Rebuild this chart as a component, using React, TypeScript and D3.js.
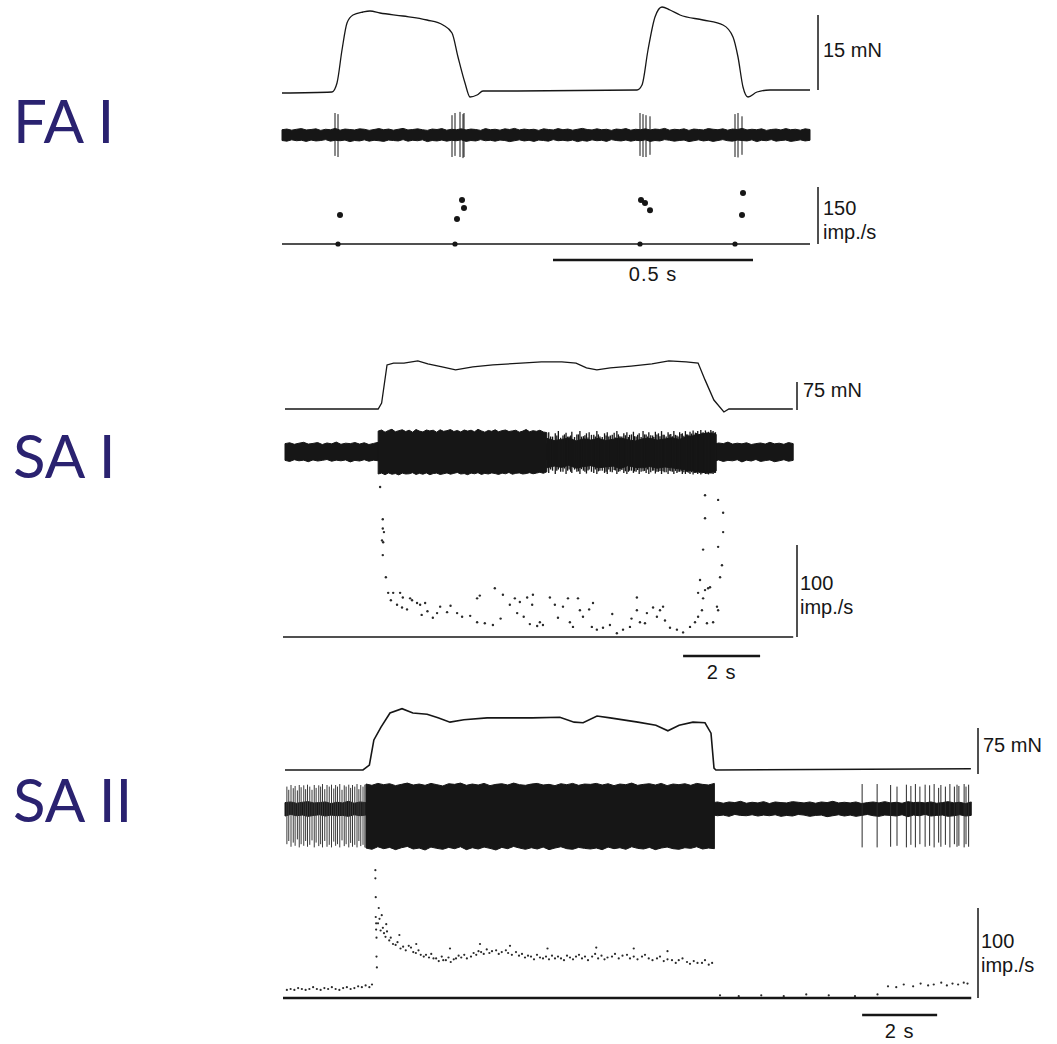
import React from 'react';
import * as d3 from 'd3';

type P = [number, number];
type S = [number, number, number];

// ---------- FA I : time (s), force (mN), rate (imp./s)
const faForce: P[] = [
  [0, 0], [0.125, 0.2], [0.1375, 2], [0.15, 8.6], [0.1625, 14], [0.1775, 15.6], [0.2025, 16.2], [0.22, 16.4],
  [0.245, 16], [0.3025, 15.4], [0.3625, 14.6], [0.4025, 13.6], [0.425, 12], [0.44, 7.2], [0.4575, 2], [0.47, -0.8],
  [0.4875, -0.4], [0.5025, 0.4], [0.5375, 0.4], [0.8875, 0.6], [0.9, 1.6], [0.915, 8.6], [0.9325, 15.2], [0.95, 17.2],
  [0.97, 16.6], [0.995, 15.6], [1.0525, 14.6], [1.1025, 13.6], [1.1275, 11.2], [1.14, 7.2], [1.1525, 1.2], [1.165, -0.8],
  [1.1875, 0.2], [1.22, 0.6], [1.32, 0.6],
];
const faSpikes: S[] = [
  [0.1325, 1, 0.95], [0.14, 0.95, 1], [0.425, 0.9, 1], [0.4325, 1, 0.95], [0.445, 1.05, 1], [0.4525, 0.95, 1.05],
  [0.455, 1, 1], [0.895, 1, 0.95], [0.9025, 0.95, 1], [0.91, 0.9, 1], [0.92, 0.85, 0.9], [1.1325, 0.95, 1],
  [1.14, 1, 1.02], [1.15, 0.85, 0.9],
];
const faNoise = [
  0.24, 0.27, 0.22, 0.26, 0.29, 0.23, 0.25, 0.28, 0.21, 0.26, 0.24, 0.3, 0.22, 0.27, 0.25, 0.23, 0.28, 0.26, 0.21, 0.25,
  0.29, 0.24, 0.27, 0.22, 0.26, 0.3, 0.23, 0.25, 0.28, 0.24, 0.21, 0.27, 0.25, 0.29, 0.22, 0.26, 0.24, 0.28, 0.23, 0.27,
  0.25, 0.21, 0.29, 0.24, 0.26, 0.22, 0.28, 0.25, 0.3, 0.23, 0.27, 0.24, 0.26, 0.21, 0.28, 0.25, 0.23, 0.29, 0.24, 0.27,
  0.22, 0.26, 0.3, 0.25, 0.23, 0.28, 0.24, 0.26, 0.21, 0.27, 0.25, 0.29, 0.22, 0.26, 0.24, 0.28, 0.23, 0.27, 0.25, 0.3,
  0.22, 0.26, 0.24, 0.28, 0.21, 0.27, 0.25, 0.23, 0.29, 0.26, 0.24, 0.28, 0.22, 0.27, 0.25, 0.3, 0.23, 0.26, 0.24, 0.28,
  0.21, 0.25, 0.27, 0.23, 0.29, 0.24, 0.26, 0.22, 0.28, 0.25,
];
const faRate: P[] = [
  [0.145, 76], [0.45, 116], [0.455, 95], [0.4375, 66], [0.8975, 116], [0.9075, 108], [0.92, 89], [1.1525, 134],
  [1.15, 76],
];
const faFirst: P[] = [[0.14, 0], [0.4325, 0], [0.895, 0], [1.1325, 0]];

// ---------- SA I
const s1Force: P[] = [
  [0, 0], [2.42, 0], [2.51, 16], [2.65, 118], [2.82, 123], [3.09, 123], [3.45, 129], [3.71, 121], [4.08, 113],
  [4.43, 105], [4.88, 113], [5.4, 118], [6.13, 123], [6.66, 126], [7.19, 126], [7.56, 123], [7.83, 110], [8.1, 105],
  [8.45, 110], [8.99, 115], [9.53, 121], [9.97, 129], [10.42, 126], [10.73, 123], [10.91, 78], [11.14, 24],
  [11.4, -8], [11.53, 0], [13.19, 0],
];
const s1Noise = [
  0.38, 0.42, 0.35, 0.4, 0.44, 0.36, 0.39, 0.43, 0.34, 0.41, 0.37, 0.45, 0.35, 0.4, 0.38, 0.43, 0.36, 0.42, 0.34, 0.39,
  0.44, 0.37, 0.41, 0.35, 0.4, 0.45, 0.36, 0.38, 0.43, 0.37, 0.34, 0.41, 0.39, 0.44, 0.35, 0.4, 0.37, 0.42, 0.36, 0.41,
  0.38, 0.34, 0.44, 0.37, 0.4, 0.35, 0.43, 0.38, 0.45, 0.36, 0.41, 0.37, 0.4, 0.34, 0.42, 0.38, 0.36, 0.44, 0.37, 0.41,
  0.35, 0.4, 0.45, 0.38, 0.36, 0.43, 0.37, 0.4, 0.34, 0.41, 0.38, 0.44, 0.35, 0.4, 0.37, 0.42, 0.36, 0.41, 0.38, 0.45,
  0.35, 0.4, 0.37, 0.43, 0.34, 0.41, 0.38, 0.36, 0.44, 0.4, 0.37, 0.42, 0.35, 0.41, 0.38, 0.45, 0.36, 0.4, 0.37, 0.42,
  0.34, 0.38, 0.41, 0.36, 0.44, 0.37, 0.4, 0.35, 0.43, 0.38,
];
const s1BurstUp = [
  0.95, 1, 0.9, 0.98, 1.03, 0.92, 0.97, 1.01, 0.93, 0.99, 0.9, 1.02, 0.95, 0.91, 1, 0.96, 0.99, 0.9, 1.01, 0.94,
  0.97, 1.02, 0.93, 0.98, 0.91, 1, 0.95, 0.99, 0.92, 1.03, 0.96, 0.9, 0.98, 0.94, 1.01, 0.92, 0.97, 1, 0.93, 0.96,
  0.99, 0.9, 0.95, 1.02, 0.92, 0.97, 0.94, 0.99, 0.91, 0.88,
];
const s1BurstDown = [
  1, 0.96, 1.03, 0.95, 1.01, 0.98, 1.04, 0.96, 1, 0.99, 0.94, 1.02, 0.97, 1.01, 0.95, 1.03, 0.98, 0.96, 1.02, 0.99,
  0.95, 1.01, 0.97, 0.93, 1, 0.98, 1.03, 0.96, 0.99, 0.94, 1.02, 0.97, 1, 0.95, 0.98, 1.02, 0.96, 0.99, 0.93, 1.01,
  0.97, 0.95, 1, 0.98, 0.94, 0.99, 0.96, 0.92, 0.97, 0.9,
];
const s1BandUp = [
  0.62, 0.52, 0.57, 0.64, 0.5, 0.6, 0.54, 0.62, 0.52, 0.58, 0.64, 0.56, 0.5, 0.6, 0.62, 0.54, 0.59, 0.65, 0.57, 0.7,
  0.74, 0.82, 0.86, 0.8,
];
const s1BandDown = [
  0.72, 0.64, 0.7, 0.6, 0.74, 0.66, 0.62, 0.72, 0.68, 0.64, 0.76, 0.62, 0.7, 0.72, 0.66, 0.74, 0.68, 0.72, 0.77, 0.82,
  0.87, 0.92, 0.96, 0.86,
];
const s1Spikes: S[] = [
  [6.85, 0.9, 0.95], [6.95, 0.7, 0.85], [7.02, 0.85, 1], [7.1, 0.95, 0.8], [7.22, 0.75, 0.9], [7.3, 0.88, 1],
  [7.38, 0.7, 0.8], [7.45, 0.92, 0.95], [7.58, 0.8, 0.9], [7.66, 0.95, 1], [7.75, 0.72, 0.85], [7.83, 0.85, 0.98],
  [7.9, 0.9, 0.8], [8.02, 0.78, 0.95], [8.1, 0.95, 1], [8.18, 0.7, 0.85], [8.3, 0.85, 0.95], [8.37, 0.9, 1],
  [8.45, 0.75, 0.9], [8.55, 0.88, 0.82], [8.62, 0.95, 1], [8.7, 0.72, 0.88], [8.8, 0.85, 0.95], [8.88, 0.9, 1],
  [8.95, 0.78, 0.85], [9.05, 0.92, 0.95], [9.12, 0.7, 0.9], [9.2, 0.85, 1], [9.3, 0.95, 0.88], [9.38, 0.8, 0.95],
  [9.45, 0.9, 1], [9.55, 0.75, 0.85], [9.62, 0.92, 0.98], [9.7, 0.85, 0.9], [9.78, 0.95, 1], [9.85, 0.78, 0.92],
  [9.95, 0.9, 1], [10.02, 0.82, 0.88], [10.1, 0.95, 1], [10.18, 0.75, 0.95], [10.25, 0.9, 0.9], [10.32, 0.85, 1],
  [10.4, 0.95, 1], [10.46, 0.8, 0.92], [10.52, 0.92, 1], [10.6, 0.98, 1.02], [10.66, 0.88, 0.95], [10.72, 0.95, 1],
  [10.8, 1, 1.02], [10.86, 0.9, 0.95], [10.92, 0.98, 1], [11.0, 0.92, 1.02], [11.06, 1, 0.98], [11.12, 0.95, 1],
  [11.18, 0.9, 0.95],
  [6.9, 0.7, 0.8], [7.06, 0.75, 0.85], [7.16, 0.65, 0.9], [7.26, 0.8, 0.75], [7.34, 0.7, 0.85], [7.42, 0.75, 0.9],
  [7.52, 0.68, 0.8], [7.62, 0.8, 0.88], [7.7, 0.7, 0.78], [7.79, 0.76, 0.9], [7.87, 0.66, 0.84], [7.96, 0.78, 0.9],
  [8.06, 0.7, 0.8], [8.14, 0.8, 0.88], [8.24, 0.68, 0.85], [8.34, 0.75, 0.9], [8.41, 0.7, 0.8], [8.5, 0.78, 0.92],
  [8.58, 0.66, 0.84], [8.66, 0.8, 0.9], [8.75, 0.7, 0.82], [8.84, 0.76, 0.88], [8.92, 0.68, 0.9], [9.0, 0.8, 0.85],
  [9.08, 0.72, 0.88], [9.16, 0.78, 0.82], [9.25, 0.68, 0.9], [9.34, 0.8, 0.86], [9.42, 0.7, 0.8], [9.5, 0.76, 0.92],
  [9.58, 0.68, 0.84], [9.66, 0.8, 0.9], [9.74, 0.72, 0.86], [9.82, 0.78, 0.88], [9.9, 0.7, 0.92], [9.98, 0.8, 0.85],
  [10.06, 0.72, 0.9], [10.14, 0.78, 0.86], [10.21, 0.7, 0.9], [10.29, 0.82, 0.88], [10.36, 0.74, 0.92],
  [10.43, 0.8, 0.9], [10.49, 0.76, 0.94], [10.56, 0.84, 0.92], [10.63, 0.8, 0.96], [10.69, 0.86, 0.94],
  [10.76, 0.82, 0.96], [10.83, 0.88, 0.98], [10.89, 0.84, 0.95], [10.96, 0.9, 1], [11.03, 0.86, 0.96],
  [11.09, 0.92, 0.98], [11.15, 0.88, 0.96],
];
const s1Rate: P[] = [
  [2.47, 163], [2.54, 128], [2.54, 118], [2.57, 114], [2.52, 105], [2.55, 103], [2.54, 89], [2.62, 65], [2.68, 48],
  [2.81, 48], [2.99, 48], [3.06, 43], [3.25, 42], [2.91, 35], [3.04, 32], [3.17, 30], [3.43, 37], [3.51, 35],
  [3.64, 37], [4.03, 33], [3.95, 26], [3.84, 21], [4.21, 27], [4.47, 26], [4.6, 22], [4.81, 23], [4.99, 16],
  [5.19, 15], [5.4, 13], [4.99, 42], [5.06, 45], [5.45, 53], [5.66, 46], [5.84, 35], [5.97, 42], [6.1, 38],
  [6.03, 26], [6.29, 43], [6.44, 46], [6.42, 35], [6.36, 14], [6.55, 12], [6.62, 16], [6.7, 13], [6.88, 43],
  [7.01, 35], [7.09, 21], [7.22, 33], [7.35, 42], [7.4, 16], [7.48, 11], [7.61, 42], [7.66, 29], [7.74, 22],
  [7.97, 11], [8.0, 37], [8.1, 8], [8.26, 10], [8.44, 13], [8.62, 4], [8.78, 8], [8.96, 11], [9.14, 43], [9.14, 29],
  [9.22, 16], [9.35, 15], [9.4, 26], [9.56, 32], [9.66, 22], [9.74, 29], [9.82, 33], [9.87, 18], [10.0, 10],
  [10.18, 8], [10.34, 5], [10.52, 11], [10.65, 16], [10.73, 22], [10.83, 29], [10.73, 48], [10.86, 42], [10.91, 51],
  [10.99, 53], [11.04, 54], [10.78, 62], [10.86, 95], [10.91, 129], [10.91, 154], [11.25, 29], [11.22, 33],
  [11.25, 98], [11.3, 65], [11.35, 78], [11.38, 114], [11.38, 135], [11.25, 149], [11.12, 16], [10.96, 15],
  [3.3, 40], [3.7, 28], [4.3, 34], [5.6, 20], [6.2, 22], [7.9, 30], [8.5, 25], [9.0, 20], [2.75, 40], [3.55, 24],
];

// ---------- SA II
const s2Force: P[] = [
  [0, 0], [2.08, 0], [2.25, 8], [2.37, 49], [2.56, 70], [2.8, 93], [3.12, 100], [3.41, 93], [3.79, 91], [4.08, 85],
  [4.4, 78], [4.77, 82], [5.39, 85], [6.0, 85], [6.59, 85], [7.33, 86], [7.71, 78], [7.95, 77], [8.32, 88],
  [8.67, 85], [9.41, 78], [9.89, 73], [10.21, 64], [10.51, 73], [10.88, 78], [11.2, 77], [11.36, 60], [11.44, 3],
  [11.49, 0], [18.29, 2],
];
const s2Noise = [
  0.2, 0.22, 0.18, 0.21, 0.23, 0.19, 0.2, 0.22, 0.17, 0.21, 0.19, 0.24, 0.18, 0.22, 0.2, 0.19, 0.23, 0.21, 0.17, 0.2,
  0.23, 0.19, 0.22, 0.18, 0.21, 0.24, 0.19, 0.2, 0.23, 0.19, 0.17, 0.22, 0.2, 0.23, 0.18, 0.21, 0.19, 0.22, 0.18, 0.21,
  0.2, 0.17, 0.23, 0.19, 0.21, 0.18, 0.22, 0.2, 0.24, 0.19, 0.22, 0.19, 0.21, 0.17, 0.23, 0.2, 0.18, 0.23, 0.19, 0.22,
  0.18, 0.21, 0.24, 0.2, 0.19, 0.22, 0.19, 0.21, 0.17, 0.22, 0.2, 0.23, 0.18, 0.21, 0.19, 0.22, 0.18, 0.22, 0.2, 0.24,
  0.18, 0.21, 0.19, 0.23, 0.17, 0.22, 0.2, 0.19, 0.23, 0.21, 0.19, 0.22, 0.18, 0.22, 0.2, 0.24, 0.19, 0.21, 0.19, 0.22,
  0.17, 0.2, 0.22, 0.19, 0.23, 0.19, 0.21, 0.18, 0.23, 0.2, 0.21, 0.19, 0.22, 0.18, 0.2, 0.23, 0.19, 0.21, 0.17, 0.22,
];
const s2BlockUp = [
  0.78, 0.74, 0.8, 0.76, 0.79, 0.73, 0.77, 0.81, 0.75, 0.78, 0.74, 0.8, 0.76, 0.72, 0.79, 0.77, 0.81, 0.74, 0.78, 0.75,
  0.8, 0.73, 0.77, 0.79, 0.75, 0.81, 0.76, 0.74, 0.78, 0.8, 0.75, 0.77, 0.73, 0.79, 0.76, 0.8, 0.74, 0.78, 0.77, 0.8,
  0.75, 0.79, 0.73, 0.78, 0.76, 0.81, 0.74, 0.77, 0.79, 0.75, 0.8, 0.73, 0.78, 0.76, 0.79, 0.74, 0.8, 0.77, 0.75, 0.8,
];
const s2BlockDown = [
  1.22, 1.26, 1.18, 1.24, 1.2, 1.27, 1.21, 1.17, 1.25, 1.22, 1.28, 1.19, 1.23, 1.26, 1.2, 1.24, 1.18, 1.27, 1.21, 1.25,
  1.19, 1.23, 1.28, 1.2, 1.24, 1.17, 1.22, 1.26, 1.21, 1.25, 1.19, 1.27, 1.22, 1.18, 1.24, 1.26, 1.2, 1.23, 1.25, 1.22,
  1.27, 1.19, 1.24, 1.21, 1.26, 1.18, 1.23, 1.25, 1.2, 1.27, 1.22, 1.19, 1.24, 1.26, 1.21, 1.23, 1.18, 1.25, 1.22, 1.24,
];
const s2Pre: S[] = [
  [0.05, 0.7, 1.1], [0.1, 0.6, 1.0], [0.16, 0.75, 1.18], [0.22, 0.65, 1.05], [0.27, 0.72, 1.15], [0.33, 0.58, 0.95],
  [0.38, 0.75, 1.2], [0.43, 0.68, 1.1], [0.5, 0.74, 1.15], [0.55, 0.62, 1.0], [0.6, 0.76, 1.18], [0.66, 0.7, 1.12],
  [0.72, 0.6, 0.98], [0.78, 0.75, 1.2], [0.83, 0.66, 1.05], [0.9, 0.74, 1.16], [0.95, 0.7, 1.1], [1.0, 0.78, 1.2],
  [1.06, 0.62, 1.0], [1.12, 0.75, 1.18], [1.18, 0.7, 1.12], [1.24, 0.76, 1.2], [1.3, 0.64, 1.02], [1.35, 0.75, 1.15],
  [1.4, 0.7, 1.1], [1.46, 0.78, 1.2], [1.52, 0.6, 0.98], [1.58, 0.74, 1.16], [1.63, 0.7, 1.1], [1.7, 0.76, 1.2],
  [1.75, 0.66, 1.06], [1.8, 0.75, 1.18], [1.86, 0.7, 1.12], [1.92, 0.78, 1.2], [1.97, 0.62, 1.0], [2.02, 0.75, 1.16],
  [2.08, 0.7, 1.12], [2.13, 0.76, 1.2],
];
const s2Post: S[] = [
  [15.39, 0.78, 1.2], [15.79, 0.78, 1.2], [16.15, 0.75, 1.18], [16.32, 0.7, 1.15], [16.57, 0.76, 1.2], [16.69, 0.72, 1.12],
  [16.81, 0.78, 1.2], [16.93, 0.7, 1.1], [17.07, 0.76, 1.18], [17.19, 0.74, 1.15], [17.31, 0.78, 1.2], [17.43, 0.66, 1.05],
  [17.49, 0.75, 1.18], [17.61, 0.7, 1.12], [17.73, 0.78, 1.2], [17.85, 0.7, 1.1], [17.92, 0.76, 1.18], [17.97, 0.72, 1.15],
  [18.11, 0.78, 1.2], [18.16, 0.7, 1.1], [18.23, 0.76, 1.18],
];
const s2Rate: P[] = [
  // before the step
  [0.05, 9], [0.15, 10], [0.25, 9], [0.35, 11], [0.45, 10], [0.55, 9], [0.65, 10], [0.75, 12], [0.85, 10], [0.95, 9],
  [1.05, 11], [1.15, 10], [1.25, 12], [1.35, 10], [1.45, 9], [1.55, 11], [1.65, 12], [1.75, 10], [1.85, 11],
  [1.95, 13], [2.05, 12], [2.15, 14], [2.25, 12], [2.32, 15],
  // onset
  [2.41, 142], [2.41, 133], [2.42, 112], [2.42, 90], [2.43, 83], [2.43, 76], [2.44, 67], [2.44, 46], [2.45, 34],
  // adapting discharge
  [2.48, 83], [2.52, 88], [2.55, 75], [2.61, 78], [2.64, 72], [2.68, 68], [2.72, 74], [2.78, 64], [2.82, 67],
  [2.88, 60], [2.95, 59], [3.0, 62], [3.08, 55], [3.15, 57], [3.22, 53], [3.3, 58], [3.36, 56], [3.42, 51],
  [3.49, 50], [3.56, 53], [3.62, 48], [3.7, 46], [3.76, 48], [3.84, 45], [3.9, 49], [3.96, 44], [4.03, 44],
  [4.1, 41], [4.18, 46], [4.22, 42], [4.29, 42], [4.36, 45], [4.42, 40], [4.5, 43], [4.56, 44], [4.63, 47],
  [4.7, 45], [4.78, 48], [4.85, 44], [4.96, 46], [5.03, 50], [5.1, 48], [5.16, 52], [5.23, 51], [5.3, 49],
  [5.38, 54], [5.45, 50], [5.52, 52], [5.63, 53], [5.7, 49], [5.78, 51], [5.89, 53], [5.95, 50], [6.05, 48],
  [6.16, 51], [6.24, 47], [6.32, 49], [6.4, 45], [6.48, 47], [6.56, 46], [6.64, 43], [6.72, 48], [6.8, 45],
  [6.88, 44], [6.96, 46], [7.04, 43], [7.12, 47], [7.2, 44], [7.28, 46], [7.36, 44], [7.44, 42], [7.52, 47],
  [7.6, 45], [7.68, 43], [7.76, 46], [7.84, 48], [7.92, 44], [8.0, 46], [8.08, 42], [8.19, 46], [8.27, 49],
  [8.35, 44], [8.44, 47], [8.52, 43], [8.6, 45], [8.72, 46], [8.8, 49], [8.9, 44], [9.0, 47], [9.12, 48], [9.2, 44],
  [9.3, 46], [9.4, 43], [9.52, 46], [9.6, 48], [9.7, 44], [9.8, 42], [9.92, 44], [10.0, 46], [10.1, 41], [10.2, 43],
  [10.32, 42], [10.42, 39], [10.5, 42], [10.6, 44], [10.72, 40], [10.8, 38], [10.9, 41], [11.0, 39], [11.12, 39],
  [11.2, 42], [11.3, 37], [11.39, 39],
  [2.5, 100], [2.58, 92], [2.7, 82], [3.05, 70], [3.5, 60], [4.4, 55], [5.2, 60], [6.0, 58], [7.0, 55], [8.3, 56],
  [9.3, 55], [10.2, 52],
  // after release
  [11.6, 3], [12.1, 2], [12.7, 3], [13.3, 2], [13.9, 4], [14.5, 3], [15.2, 2], [15.8, 4],
  [16.08, 13], [16.3, 12], [16.5, 15], [16.75, 13], [16.95, 16], [17.15, 14], [17.3, 15], [17.5, 17], [17.65, 14],
  [17.8, 16], [17.95, 15], [18.1, 17], [18.2, 16],
];

const INK = '#161616';
const LABEL_FONT = 'Lato, "Open Sans", sans-serif';
const SCALE_FONT = '"Liberation Sans", Arial, sans-serif';
const SCALE_SIZE = 20;

type Lin = d3.ScaleLinear<number, number>;

function envelope(up: number[], down: number[], t0: number, t1: number, x: Lin, a: Lin) {
  const idx = d3.scaleLinear().domain([0, up.length - 1]).range([t0, t1]);
  return d3.area<number>()
    .x((_, i) => x(idx(i)))
    .y0((_, i) => a(-down[i]))
    .y1((d) => a(d))(up) as string;
}

function Spikes({ data, x, a, stroke = INK, width = 1 }: { data: S[]; x: Lin; a: Lin; stroke?: string; width?: number }) {
  return (
    <g stroke={stroke} strokeWidth={width}>
      {data.map(([t, up, dn], i) => (
        <line key={i} x1={x(t)} x2={x(t)} y1={a(up)} y2={a(-dn)} />
      ))}
    </g>
  );
}

function ScaleText({ x, y, lines }: { x: number; y: number; lines: string[] }) {
  return (
    <text x={x} y={y} fontFamily={SCALE_FONT} fontSize={SCALE_SIZE} fill={INK}>
      {lines.map((s, i) => (
        <tspan key={i} x={x} dy={i === 0 ? 0 : 24}>{s}</tspan>
      ))}
    </text>
  );
}

export default function App() {
  // FA I
  const xFA = d3.scaleLinear().domain([0, 1.32]).range([282, 810]);
  const fFA = d3.scaleLinear().domain([0, 15]).range([93, 18]);
  const aFA = d3.scaleLinear().domain([-1, 1]).range([157, 113]);
  const rFA = d3.scaleLinear().domain([0, 150]).range([244, 187]);
  // SA I
  const xS1 = d3.scaleLinear().domain([0, 13.2]).range([285, 793.2]);
  const fS1 = d3.scaleLinear().domain([0, 75]).range([409, 381]);
  const aS1 = d3.scaleLinear().domain([-1, 1]).range([474, 430]);
  const rS1 = d3.scaleLinear().domain([0, 100]).range([637, 545]);
  // SA II
  const xS2 = d3.scaleLinear().domain([0, 18.3]).range([285, 971.25]);
  const fS2 = d3.scaleLinear().domain([0, 75]).range([770, 724]);
  const aS2 = d3.scaleLinear().domain([-1, 1]).range([841, 777]);
  const rS2 = d3.scaleLinear().domain([0, 100]).range([998, 908]);

  const lineOf = (x: Lin, y: Lin, curve: d3.CurveFactory) =>
    d3.line<P>().x((d) => x(d[0])).y((d) => y(d[1])).curve(curve);

  return (
    <svg width={1057} height={1044} style={{ position: 'absolute', left: 0, top: 0, background: '#fff' }}>
      {/* unit labels */}
      <g fontFamily={LABEL_FONT} fontSize={60} fill="#2a2270">
        <text x={13} y={143}>FA I</text>
        <text x={13} y={478}>SA I</text>
        <text x={13} y={822}>SA II</text>
      </g>

      {/* ---------- FA I */}
      <path d={lineOf(xFA, fFA, d3.curveMonotoneX)(faForce) as string} fill="none" stroke={INK} strokeWidth={1.3} />
      <path d={envelope(faNoise, faNoise.slice().reverse(), 0, 1.32, xFA, aFA)} fill={INK} stroke={INK} strokeWidth={1} />
      <Spikes data={faSpikes} x={xFA} a={aFA} />
      <line x1={xFA(0)} x2={xFA(1.32)} y1={rFA(0)} y2={rFA(0)} stroke={INK} strokeWidth={1.6} />
      {faRate.map(([t, r], i) => <circle key={i} cx={xFA(t)} cy={rFA(r)} r={3} fill={INK} />)}
      {faFirst.map(([t, r], i) => <circle key={i} cx={xFA(t)} cy={rFA(r)} r={2.6} fill={INK} />)}
      <line x1={818} x2={818} y1={fFA(0.6)} y2={fFA(15.6)} stroke={INK} strokeWidth={1.5} />
      <ScaleText x={823} y={57} lines={['15 mN']} />
      <line x1={818} x2={818} y1={rFA(0)} y2={rFA(150)} stroke={INK} strokeWidth={1.5} />
      <ScaleText x={823} y={215} lines={['150', 'imp./s']} />
      <line x1={xFA(0.6775)} x2={xFA(1.1775)} y1={260} y2={260} stroke={INK} strokeWidth={2.5} />
      <text x={xFA(0.9275)} y={281} textAnchor="middle" fontFamily={SCALE_FONT} fontSize={SCALE_SIZE}
        letterSpacing={1} fill={INK}>0.5 s</text>

      {/* ---------- SA I */}
      <path d={lineOf(xS1, fS1, d3.curveLinear)(s1Force) as string} fill="none" stroke={INK} strokeWidth={1.3} />
      <path d={envelope(s1Noise, s1Noise.slice().reverse(), 0, 13.2, xS1, aS1)} fill={INK} stroke={INK} strokeWidth={1} />
      <path d={envelope(s1BurstUp, s1BurstDown, 2.42, 6.8, xS1, aS1)} fill={INK} stroke={INK} strokeWidth={1} />
      <path d={envelope(s1BandUp, s1BandDown, 6.8, 11.2, xS1, aS1)} fill={INK} stroke={INK} strokeWidth={1} />
      <Spikes data={s1Spikes} x={xS1} a={aS1} width={1.3} />
      <line x1={283} x2={xS1(13.2)} y1={rS1(0)} y2={rS1(0)} stroke={INK} strokeWidth={1.6} />
      {s1Rate.map(([t, r], i) => <circle key={i} cx={xS1(t)} cy={rS1(r)} r={1.2} fill="#2a2a2a" />)}
      <line x1={797} x2={797} y1={fS1(-3)} y2={fS1(72)} stroke={INK} strokeWidth={1.5} />
      <ScaleText x={803} y={397} lines={['75 mN']} />
      <line x1={797} x2={797} y1={rS1(0)} y2={rS1(100)} stroke={INK} strokeWidth={1.5} />
      <ScaleText x={800} y={590} lines={['100', 'imp./s']} />
      <line x1={xS1(10.34)} x2={xS1(12.34)} y1={656} y2={656} stroke={INK} strokeWidth={2.5} />
      <text x={xS1(11.34)} y={679} textAnchor="middle" fontFamily={SCALE_FONT} fontSize={SCALE_SIZE}
        letterSpacing={1} fill={INK}>2 s</text>

      {/* ---------- SA II */}
      <path d={lineOf(xS2, fS2, d3.curveLinear)(s2Force) as string} fill="none" stroke={INK} strokeWidth={1.6} />
      <path d={envelope(s2Noise, s2Noise.slice().reverse(), 0, 18.3, xS2, aS2)} fill={INK} stroke={INK} strokeWidth={1} />
      <Spikes data={s2Pre} x={xS2} a={aS2} stroke="#3a3a3a" />
      <path d={envelope(s2BlockUp, s2BlockDown, 2.16, 11.45, xS2, aS2)} fill={INK} stroke={INK} strokeWidth={1} />
      <Spikes data={s2Post} x={xS2} a={aS2} stroke="#2a2a2a" />
      <line x1={283} x2={xS2(18.3)} y1={rS2(0)} y2={rS2(0)} stroke={INK} strokeWidth={2.4} />
      {s2Rate.map(([t, r], i) => <circle key={i} cx={xS2(t)} cy={rS2(r)} r={1.1} fill="#2a2a2a" />)}
      <line x1={978} x2={978} y1={fS2(-6.5)} y2={fS2(68.5)} stroke={INK} strokeWidth={1.5} />
      <ScaleText x={983} y={752} lines={['75 mN']} />
      <line x1={978} x2={978} y1={rS2(0)} y2={rS2(100)} stroke={INK} strokeWidth={1.5} />
      <ScaleText x={981} y={948} lines={['100', 'imp./s']} />
      <line x1={xS2(15.39)} x2={xS2(17.39)} y1={1015} y2={1015} stroke={INK} strokeWidth={2.5} />
      <text x={xS2(16.39)} y={1038} textAnchor="middle" fontFamily={SCALE_FONT} fontSize={SCALE_SIZE}
        letterSpacing={1} fill={INK}>2 s</text>
    </svg>
  );
}
